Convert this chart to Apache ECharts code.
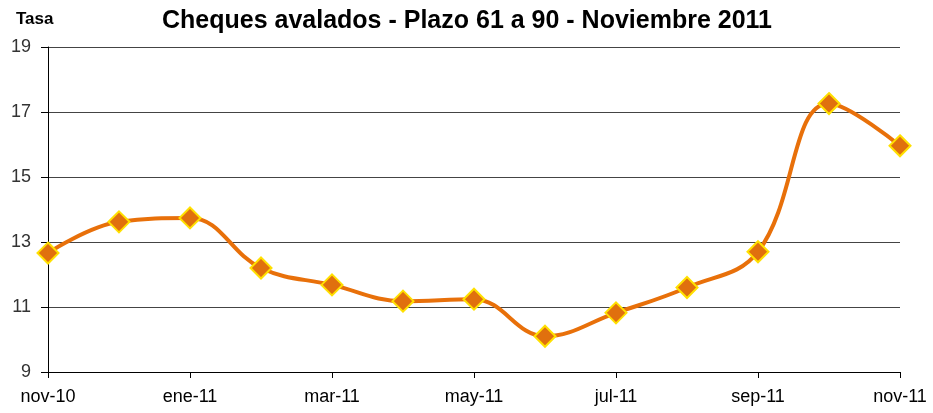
<!DOCTYPE html>
<html><head><meta charset="utf-8">
<script src="https://cdn.jsdelivr.net/npm/echarts@6/dist/echarts.min.js"></script>
<style>html,body{margin:0;padding:0;background:#fff}#c{width:933px;height:413px}</style>
</head><body><div id="c"></div>
<script>
const categories = ['nov-10','dic-10','ene-11','feb-11','mar-11','abr-11','may-11','jun-11','jul-11','ago-11','sep-11','oct-11','nov-11'];
const values = [12.66, 13.62, 13.74, 12.2, 11.68, 11.18, 11.24, 10.1, 10.82, 11.6, 12.7, 17.26, 15.96];
const yTicks = [9, 11, 13, 15, 17, 19];
const titleText = 'Cheques avalados - Plazo 61 a 90 - Noviembre 2011';
const yName = 'Tasa';

const chart = echarts.init(document.getElementById('c'));
chart.setOption({
  animation: false,
  backgroundColor: '#fff',
  title: [{
    text: titleText, left: 462, top: 4, textAlign: 'center',
    textStyle: {fontFamily: 'Liberation Sans, Arial', fontWeight: 'bold', fontSize: 25, color: '#000'}
  }, {
    text: yName, left: 11, top: 6,
    textStyle: {fontFamily: 'Liberation Sans, Arial', fontWeight: 'bold', fontSize: 17, color: '#000'}
  }],
  grid: {left: 48, right: 33, top: 47, bottom: 41},
  xAxis: {
    type: 'category', data: categories, boundaryGap: false,
    axisLine: {lineStyle: {color: '#000', width: 1}},
    axisTick: {show: true, length: 6, interval: 1, lineStyle: {color: '#000'}},
    axisLabel: {interval: 1, fontFamily: 'Liberation Sans, Arial', fontSize: 18, color: '#000', margin: 16},
    splitLine: {show: false}
  },
  yAxis: {
    type: 'value', min: yTicks[0], max: yTicks[yTicks.length-1], interval: 2,
    axisLine: {show: true, lineStyle: {color: '#000', width: 1}},
    axisTick: {show: true, length: 7, lineStyle: {color: '#000'}},
    axisLabel: {fontFamily: 'Liberation Sans, Arial', fontSize: 18, color: '#333', margin: 17},
    splitLine: {lineStyle: {color: '#444', width: 1}}
  },
  series: [{
    type: 'line', data: values, smooth: 0.4,
    lineStyle: {color: '#E8700A', width: 4},
    symbol: 'diamond', symbolSize: 21,
    itemStyle: {color: '#E0700E', borderColor: '#FFE000', borderWidth: 2}
  }]
});
</script></body></html>
